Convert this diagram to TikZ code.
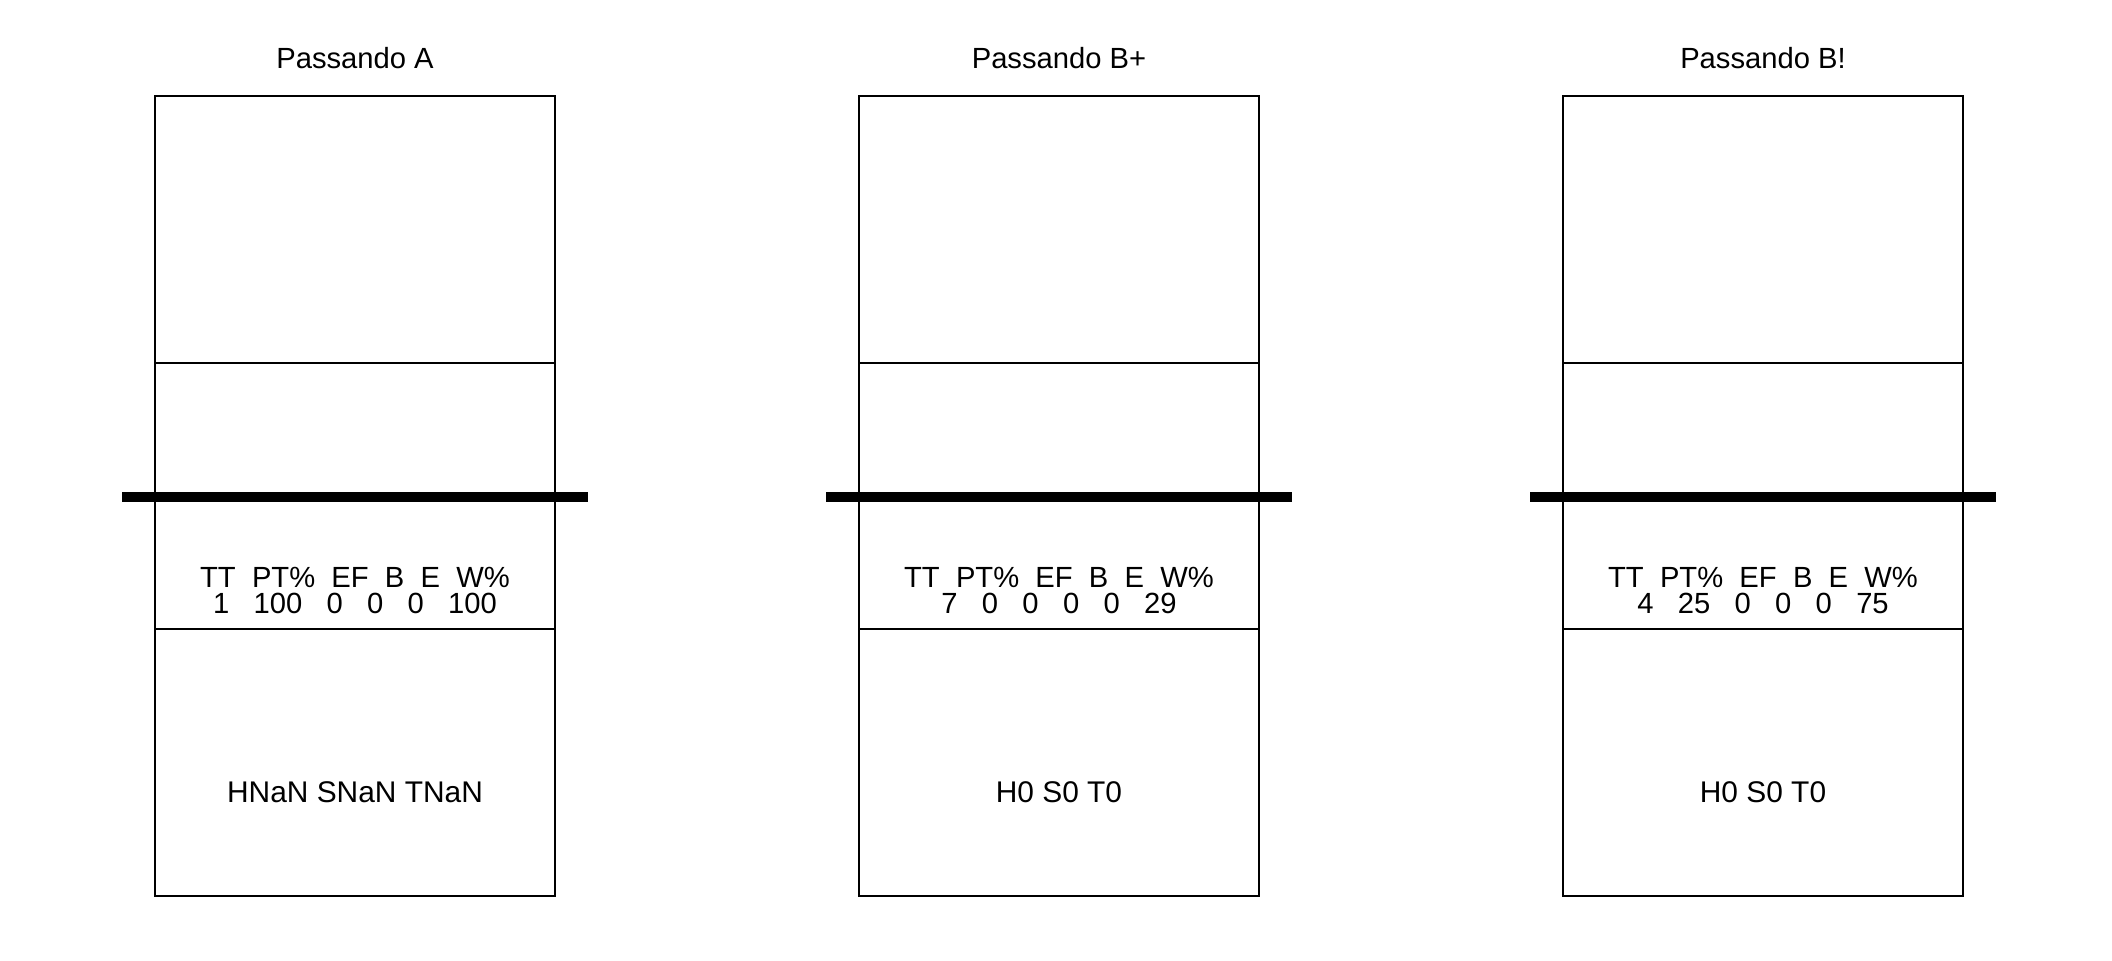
\documentclass[tikz,border=0pt]{standalone}
\usepackage{fontspec}
\setmainfont{Liberation Sans}
\usepackage{tikz}
\usetikzlibrary{positioning}

\begin{document}
\begin{tikzpicture}[x=0.01cm,y=-0.01cm,
		court/.style={line width=0.45pt},
		net/.style={line width=2.85pt},
		txt/.style={font=\fontsize{8.3}{10}\selectfont,inner sep=0pt,anchor=base}]
		\useasboundingbox (0,0) rectangle (2112,960);
		\foreach \c/\name/\ttl/\vals/\score in {355/A/Passando A/1\ \ \ 100\ \ \ 0\ \ \ 0\ \ \ 0\ \ \ 100/HNaN SNaN TNaN,
				1059/Bp/Passando B+/7\ \ \ 0\ \ \ 0\ \ \ 0\ \ \ 0\ \ \ 29/H0 S0 T0,
				1763/Bx/Passando B!/4\ \ \ 25\ \ \ 0\ \ \ 0\ \ \ 0\ \ \ 75/H0 S0 T0}
		{
		\draw[court] (\c-200,96) rectangle (\c+200,896);
		\draw[court] (\c-200,363) -- (\c+200,363);
		\draw[court] (\c-200,629) -- (\c+200,629);
		\draw[net] (\c-233,496.7) -- (\c+233,496.7);
		\node[txt] (title\name) at (\c,68) {\ttl};
		\node[txt] (head\name) at (\c,587) {TT\ \ PT\%\ \ EF\ \ B\ \ E\ \ W\%};
		\node[txt] (vals\name) at (\c,613) {\vals};
		\node[txt,font=\fontsize{8.5}{10}\selectfont] (score\name) at (\c,802) {\score};
		}
\end{tikzpicture}
\end{document}
